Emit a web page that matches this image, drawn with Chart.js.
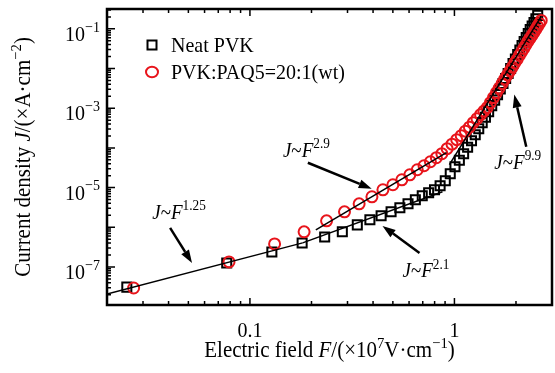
<!DOCTYPE html>
<html>
<head>
<meta charset="utf-8">
<script src="https://cdn.jsdelivr.net/npm/chart.js@4.4.1/dist/chart.umd.min.js"></script>
<style>
  html, body { margin: 0; padding: 0; background: #fff; }
  #wrap { width: 555px; height: 373px; }
</style>
</head>
<body>
<div id="wrap"><canvas id="jvChart" width="555" height="373"></canvas></div>
<script>
// Neat PVK (squares)
const neatF = [0.025, 0.077, 0.128, 0.180, 0.232, 0.283, 0.335, 0.386, 0.438, 0.490,
  0.541, 0.593, 0.644, 0.696, 0.748, 0.799, 0.851, 0.902, 0.954, 1.006,
  1.057, 1.109, 1.160, 1.212, 1.264, 1.315, 1.367, 1.418, 1.470, 1.522,
  1.573, 1.625, 1.676, 1.728, 1.780, 1.831, 1.883, 1.934, 1.986, 2.038,
  2.089, 2.141, 2.192, 2.244, 2.296, 2.347, 2.399, 2.450, 2.502, 2.554];
const neatJ = [3.1e-8, 1.26e-7, 2.39e-7, 4.0e-7, 5.7e-7, 7.7e-7, 1.15e-6, 1.54e-6, 1.94e-6, 2.45e-6,
  3.09e-6, 3.9e-6, 4.92e-6, 6.21e-6, 7.4e-6, 8.8e-6, 1.11e-5, 1.49e-5, 2.23e-5, 3.35e-5,
  4.89e-5, 7.14e-5, 1.04e-4, 1.52e-4, 2.15e-4, 3.05e-4, 4.33e-4, 5.95e-4, 8.2e-4, 1.16e-3,
  1.6e-3, 2.2e-3, 3.03e-3, 4.18e-3, 5.58e-3, 7.48e-3, 1.0e-2, 1.34e-2, 1.74e-2, 2.26e-2,
  2.93e-2, 3.81e-2, 4.81e-2, 6.07e-2, 7.66e-2, 9.66e-2, 0.118, 0.145, 0.178, 0.218];

// PVK:PAQ5=20:1 (circles)
const blendF = [0.027, 0.079, 0.132, 0.184, 0.237, 0.290, 0.342, 0.395, 0.447, 0.500,
  0.553, 0.605, 0.658, 0.710, 0.763, 0.816, 0.868, 0.921, 0.973, 1.026,
  1.079, 1.131, 1.184, 1.236, 1.289, 1.342, 1.394, 1.447, 1.499, 1.552,
  1.605, 1.657, 1.710, 1.762, 1.815, 1.868, 1.920, 1.973, 2.025, 2.078,
  2.131, 2.183, 2.236, 2.288, 2.341, 2.394, 2.446, 2.499, 2.551, 2.604, 2.657];
const blendJ = [2.95e-8, 1.34e-7, 3.81e-7, 7.66e-7, 1.45e-6, 2.45e-6, 3.9e-6, 5.86e-6, 8.8e-6, 1.18e-5,
  1.57e-5, 2.1e-5, 2.81e-5, 3.55e-5, 4.48e-5, 5.66e-5, 7.14e-5, 9.55e-5, 1.24e-4, 1.61e-4,
  2.03e-4, 2.64e-4, 3.33e-4, 4.33e-4, 5.46e-4, 6.89e-4, 8.45e-4, 1.04e-3, 1.38e-3, 1.85e-3,
  2.48e-3, 3.22e-3, 4.18e-3, 5.43e-3, 6.86e-3, 8.65e-3, 1.09e-2, 1.38e-2, 1.69e-2, 2.13e-2,
  2.61e-2, 3.2e-2, 3.92e-2, 4.81e-2, 5.73e-2, 6.81e-2, 8.11e-2, 9.66e-2, 0.115, 0.137, 0.163];

// power-law fit lines (end points)
const fitLowF = [0.02, 0.181], fitLowJ = [2.08e-8, 4.04e-7];
const fitNeatF = [0.181, 0.874], fitNeatJ = [4.04e-7, 7.83e-6];
const fitBlendF = [0.21, 0.914], fitBlendJ = [8.59e-7, 7.57e-5];
const fitHighF = [0.945, 2.657], fitHighJ = [3.77e-5, 0.206];

// axis ticks
const xLabelTicks = [0.1, 1];
const xLabels = ["0.1", "1"];
const yLabelExps = [-1, -3, -5, -7];

// annotations: label anchor [F, J], exponent, arrow from [F, J] to [F, J]
const notes = [
  { at: [0.0333, 1.63e-6], exp: "1.25", from: [0.0407, 9.66e-7], to: [0.0521, 1.26e-7] },
  { at: [0.145, 6.0e-5], exp: "2.9", from: [0.192, 4.23e-5], to: [0.394, 9.33e-6] },
  { at: [0.557, 5.59e-8], exp: "2.1", from: [0.675, 2.26e-7], to: [0.445, 1.08e-6] },
  { at: [1.567, 2.99e-5], exp: "9.9", from: [2.245, 1.07e-4], to: [1.962, 2.2e-3] }
];

const SERIF = '"Liberation Serif", "Times New Roman", serif';

function pairs(xs, ys) {
  return xs.map(function (x, i) { return { x: x, y: ys[i] }; });
}

function fitSet(xs, ys) {
  return {
    label: "fit",
    data: pairs(xs, ys),
    showLine: true,
    borderColor: "#000",
    borderWidth: 1.5,
    pointRadius: 0,
    order: 0
  };
}

// draws text made of parts: {t, it (italic), sup}
function richWidth(ctx, parts, size) {
  let w = 0;
  parts.forEach(function (p) {
    const fs = p.sup ? size * 0.7 : size;
    ctx.font = (p.it ? "italic " : "") + fs + "px " + SERIF;
    w += ctx.measureText(p.t).width;
  });
  return w;
}

function drawRich(ctx, parts, x, y, size, align, sy) {
  const w = richWidth(ctx, parts, size);
  let cx = align === "center" ? x - w / 2 : align === "right" ? x - w : x;
  ctx.save();
  ctx.translate(0, y);
  ctx.scale(1, sy || 1);
  ctx.textBaseline = "alphabetic";
  ctx.textAlign = "left";
  ctx.fillStyle = "#000";
  parts.forEach(function (p) {
    const fs = p.sup ? size * 0.7 : size;
    ctx.font = (p.it ? "italic " : "") + fs + "px " + SERIF;
    ctx.fillText(p.t, cx, p.sup ? -size * 0.42 : 0);
    cx += ctx.measureText(p.t).width;
  });
  ctx.restore();
}

function arrow(ctx, x1, y1, x2, y2) {
  const ang = Math.atan2(y2 - y1, x2 - x1);
  const head = 13, half = 4.5;
  const bx = x2 - head * Math.cos(ang), by = y2 - head * Math.sin(ang);
  ctx.save();
  ctx.strokeStyle = "#000";
  ctx.fillStyle = "#000";
  ctx.lineWidth = 2.5;
  ctx.beginPath();
  ctx.moveTo(x1, y1);
  ctx.lineTo(bx, by);
  ctx.stroke();
  ctx.beginPath();
  ctx.moveTo(x2, y2);
  ctx.lineTo(bx + half * Math.sin(ang), by - half * Math.cos(ang));
  ctx.lineTo(bx - half * Math.sin(ang), by + half * Math.cos(ang));
  ctx.closePath();
  ctx.fill();
  ctx.restore();
}

const framePlugin = {
  id: "frame",
  afterDraw: function (chart) {
    const ctx = chart.ctx;
    const a = chart.chartArea;
    const xs = chart.scales.x, ys = chart.scales.y;

    // tick marks (inside)
    ctx.save();
    ctx.strokeStyle = "#000";
    ctx.lineWidth = 1.5;
    ctx.beginPath();
    for (let e = -2; e <= 0; e++) {
      for (let k = 1; k <= 9; k++) {
        const v = k * Math.pow(10, e);
        if (v <= xs.min || v >= xs.max) continue;
        const px = xs.getPixelForValue(v);
        const len = k === 1 ? 7 : 4;
        ctx.moveTo(px, a.bottom); ctx.lineTo(px, a.bottom - len);
        ctx.moveTo(px, a.top); ctx.lineTo(px, a.top + len);
      }
    }
    for (let e = -8; e <= -1; e++) {
      for (let k = 1; k <= 9; k++) {
        const v = k * Math.pow(10, e);
        if (v <= ys.min || v >= ys.max) continue;
        const py = ys.getPixelForValue(v);
        const len = k === 1 ? 8 : 4;
        ctx.moveTo(a.left, py); ctx.lineTo(a.left + len, py);
      }
    }
    ctx.stroke();

    // frame
    ctx.lineWidth = 2.5;
    ctx.strokeRect(a.left, a.top, a.right - a.left, a.bottom - a.top);
    ctx.restore();

    // x tick labels
    xLabelTicks.forEach(function (v, i) {
      drawRich(ctx, [{ t: xLabels[i] }], xs.getPixelForValue(v), a.bottom + 32, 20, "center", 1.1);
    });
    // y tick labels 10^n
    yLabelExps.forEach(function (e) {
      const py = ys.getPixelForValue(Math.pow(10, e));
      drawRich(ctx, [{ t: "10" }, { t: "\u2212" + (-e), sup: true }], a.left - 7, py + 12, 20, "right", 1.1);
    });

    // axis titles
    drawRich(ctx, [
      { t: "Electric field " }, { t: "F", it: true }, { t: "/(\u00d710" }, { t: "7", sup: true },
      { t: "V\u00b7cm" }, { t: "\u22121", sup: true }, { t: ")" }
    ], (a.left + a.right) / 2, 357, 21, "center", 1.05);

    ctx.save();
    ctx.translate(30, (a.top + a.bottom) / 2);
    ctx.rotate(-Math.PI / 2);
    drawRich(ctx, [
      { t: "Current density " }, { t: "J", it: true }, { t: "/(\u00d7A\u00b7cm" },
      { t: "\u22122", sup: true }, { t: ")" }
    ], 0, 0, 21, "center", 1.05);
    ctx.restore();

    // annotations
    notes.forEach(function (n) {
      drawRich(ctx, [{ t: "J", it: true }, { t: "~" }, { t: "F", it: true }, { t: n.exp, sup: true }],
        xs.getPixelForValue(n.at[0]), ys.getPixelForValue(n.at[1]), 19, "left", 1.05);
      arrow(ctx, xs.getPixelForValue(n.from[0]), ys.getPixelForValue(n.from[1]),
        xs.getPixelForValue(n.to[0]), ys.getPixelForValue(n.to[1]));
    });

    // legend
    const lx = a.left + 45, ly1 = a.top + 36, ly2 = a.top + 63;
    ctx.save();
    ctx.lineWidth = 2;
    ctx.strokeStyle = "#000";
    ctx.strokeRect(lx - 4.5, ly1 - 4.5, 9, 9);
    ctx.strokeStyle = "#e8141b";
    ctx.beginPath();
    ctx.ellipse(lx, ly2, 6, 5.3, 0, 0, Math.PI * 2);
    ctx.stroke();
    ctx.restore();
    drawRich(ctx, [{ t: "Neat PVK" }], lx + 19, ly1 + 7, 20, "left", 1.05);
    drawRich(ctx, [{ t: "PVK:PAQ5=20:1(wt)" }], lx + 19, ly2 + 7, 20, "left", 1.05);
  }
};

new Chart(document.getElementById("jvChart"), {
  type: "scatter",
  data: {
    datasets: [
      fitSet(fitLowF, fitLowJ),
      fitSet(fitNeatF, fitNeatJ),
      fitSet(fitBlendF, fitBlendJ),
      fitSet(fitHighF, fitHighJ),
      {
        label: "PVK:PAQ5=20:1(wt)",
        data: pairs(blendF, blendJ),
        pointStyle: "circle",
        pointRadius: 5.5,
        pointBorderWidth: 2,
        pointBorderColor: "#e8141b",
        pointBackgroundColor: "rgba(0,0,0,0)",
        showLine: false,
        order: 1
      },
      {
        label: "Neat PVK",
        data: pairs(neatF, neatJ),
        pointStyle: "rect",
        pointRadius: 6.4,
        pointBorderWidth: 2,
        pointBorderColor: "#000",
        pointBackgroundColor: "rgba(0,0,0,0)",
        showLine: false,
        order: 2
      }
    ]
  },
  options: {
    responsive: false,
    devicePixelRatio: 1,
    animation: false,
    layout: { autoPadding: false, padding: { left: 107, right: 3, top: 9, bottom: 68 } },
    scales: {
      x: { type: "logarithmic", min: 0.02, max: 3, display: false },
      y: { type: "logarithmic", min: 1.1e-8, max: 0.316, display: false }
    },
    plugins: {
      legend: { display: false },
      tooltip: { enabled: false }
    }
  },
  plugins: [framePlugin]
});
</script>
</body>
</html>
